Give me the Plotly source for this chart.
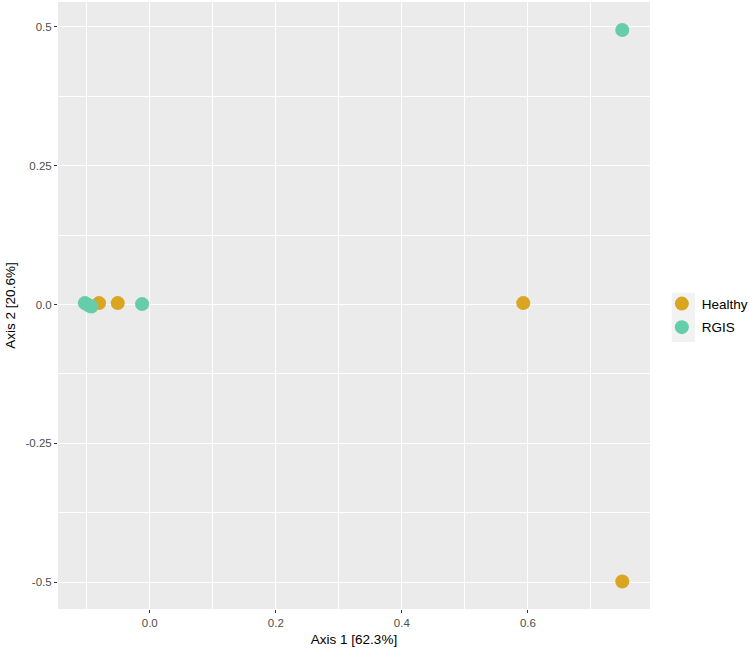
import plotly.graph_objects as go

# Data
healthy_x = [-0.0805, -0.0508, 0.5926, 0.7497]
healthy_y = [0.0025, 0.0025, 0.0025, -0.4985]
rgis_x = [-0.103, -0.099, -0.0955, -0.0925, -0.0122, 0.7497]
rgis_y = [0.0025, 0.0, -0.0025, -0.0036, 0.0007, 0.494]

x_ticks = [0.0, 0.2, 0.4, 0.6]
x_tick_text = ["0.0", "0.2", "0.4", "0.6"]
y_ticks = [-0.5, -0.25, 0.0, 0.25, 0.5]
y_tick_text = ["-0.5", "-0.25", "0.0", "0.25", "0.5"]

GOLD = "#DAA520"
GREEN = "#66CDAA"
FONT = "Liberation Sans, Arial, sans-serif"

fig = go.Figure()
fig.add_trace(go.Scatter(x=healthy_x, y=healthy_y, mode="markers", name="Healthy",
                         legendgroup="h",
                         marker=dict(color=GOLD, size=14, line=dict(width=0))))
fig.add_trace(go.Scatter(x=rgis_x, y=rgis_y, mode="markers", name="RGIS",
                         legendgroup="r",
                         marker=dict(color=GREEN, size=14, line=dict(width=0))))

axis_common = dict(
    showgrid=True, gridcolor="white", gridwidth=1.1, zeroline=False,
    ticks="outside", ticklen=3, tickcolor="#333333", tickwidth=1,
    tickfont=dict(family=FONT, size=11.5, color="#4D4D4D"),
    showline=False,
)

# legend key background (ggplot legend.key, grey95)
fig.add_shape(type="rect", xref="paper", yref="paper",
              x0=1.0367, x1=1.076, y0=0.440, y1=0.521,
              fillcolor="#F2F2F2", line=dict(width=0), layer="below")

fig.update_layout(
    width=750, height=654,
    margin=dict(l=58, r=100, t=2, b=45, autoexpand=False),
    paper_bgcolor="white",
    plot_bgcolor="#EBEBEB",
    font=dict(family=FONT, color="black"),
    xaxis=dict(range=[-0.1456, 0.7937], tickvals=x_ticks, ticktext=x_tick_text,
               title=dict(text="Axis 1 [62.3%]", font=dict(family=FONT, size=13.5, color="black"), standoff=6),
               minor=dict(dtick=0.1, tick0=0.1, showgrid=True, gridcolor="white", gridwidth=0.5, ticks=""),
               **axis_common),
    yaxis=dict(range=[-0.548, 0.5444], tickvals=y_ticks, ticktext=y_tick_text,
               title=dict(text="Axis 2 [20.6%]", font=dict(family=FONT, size=13.5, color="black"), standoff=6),
               minor=dict(dtick=0.125, tick0=0.125, showgrid=True, gridcolor="white", gridwidth=0.5, ticks=""),
               **axis_common),
    legend=dict(x=1.020, y=0.483, yanchor="middle", xanchor="left",
                font=dict(family=FONT, size=13.5, color="black"),
                bgcolor="rgba(0,0,0,0)", tracegroupgap=3, itemsizing="trace"),
    showlegend=True,
)

fig.write_html("out.html")
